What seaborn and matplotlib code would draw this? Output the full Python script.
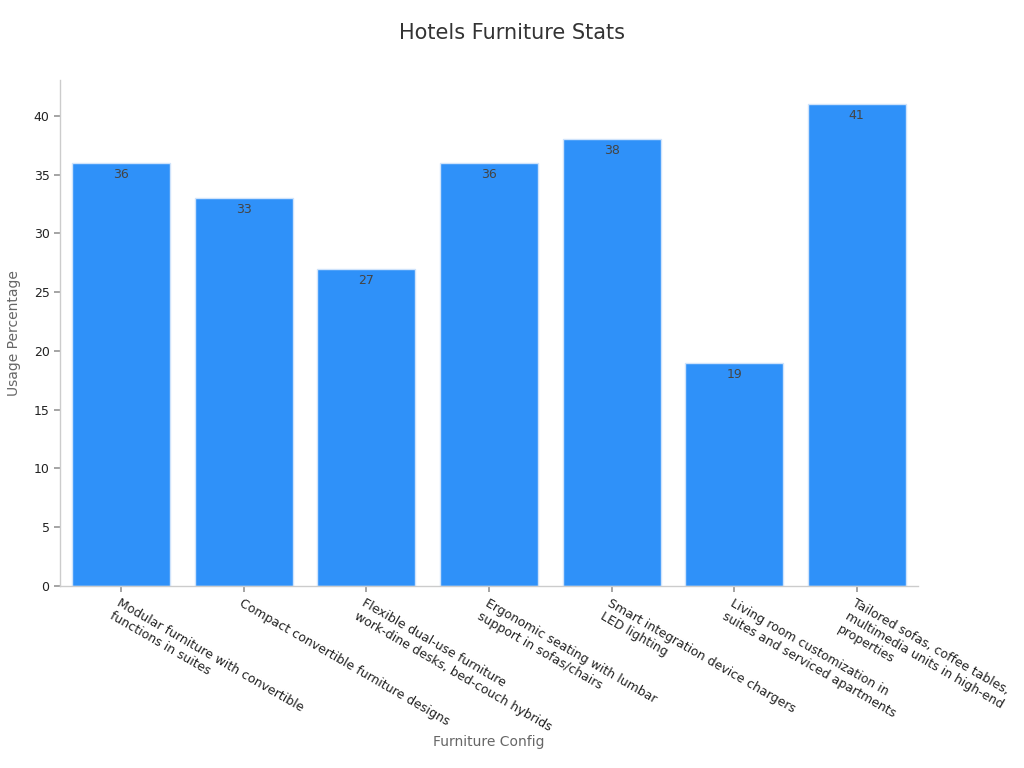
import matplotlib
matplotlib.use("Agg")
import matplotlib.pyplot as plt
import seaborn as sns
import pandas as pd

categories = [
    "Modular furniture with convertible\nfunctions in suites",
    "Compact convertible furniture designs",
    "Flexible dual-use furniture\nwork-dine desks, bed-couch hybrids",
    "Ergonomic seating with lumbar\nsupport in sofas/chairs",
    "Smart integration device chargers\nLED lighting",
    "Living room customization in\nsuites and serviced apartments",
    "Tailored sofas, coffee tables,\nmultimedia units in high-end\nproperties",
]
values = [36, 33, 27, 36, 38, 19, 41]

title = "Hotels Furniture Stats"
xlabel = "Furniture Config"
ylabel = "Usage Percentage"

sns.set_theme(style="ticks")
plt.rcParams['font.family'] = ['DejaVu Sans']

df = pd.DataFrame({"cat": categories, "val": values})

fig = plt.figure(figsize=(10.24, 7.68), dpi=100)
ax = fig.add_axes([0.0586, 0.237, 0.8379, 0.659])

sns.barplot(data=df, x="cat", y="val", color="#2f91f9", saturation=1,
            edgecolor="#cfe3fb", linewidth=1, width=0.8, ax=ax)

for c in ax.containers:
    ax.bar_label(c, labels=[f"{v:g}" for v in values], label_type="edge",
                 padding=-13, fontsize=9, color="#444444")

ax.set_ylim(0, 43.05)
ax.set_xlim(-0.5, 6.5)
ax.set_yticks([0, 5, 10, 15, 20, 25, 30, 35, 40])
ax.tick_params(axis="both", labelsize=9, colors="#333333", length=4, color="#999999")
for lab in ax.get_xticklabels():
    lab.set_rotation(-30)
    lab.set_ha("left")
    lab.set_rotation_mode("anchor")
    lab.set_color("#222222")
for lab in ax.get_yticklabels():
    lab.set_color("#222222")

sns.despine(ax=ax)
for s in ["left", "bottom"]:
    ax.spines[s].set_color("#cccccc")
    ax.spines[s].set_linewidth(1)

ax.set_xlabel(xlabel, fontsize=10, color="#666666")
ax.set_ylabel(ylabel, fontsize=10, color="#666666")
ax.xaxis.set_label_coords(0.5, -0.295)
ax.yaxis.set_label_coords(-0.046, 0.5)
fig.suptitle(title, fontsize=15, color="#333333", y=0.97)

fig.savefig("out.png", dpi=100)
